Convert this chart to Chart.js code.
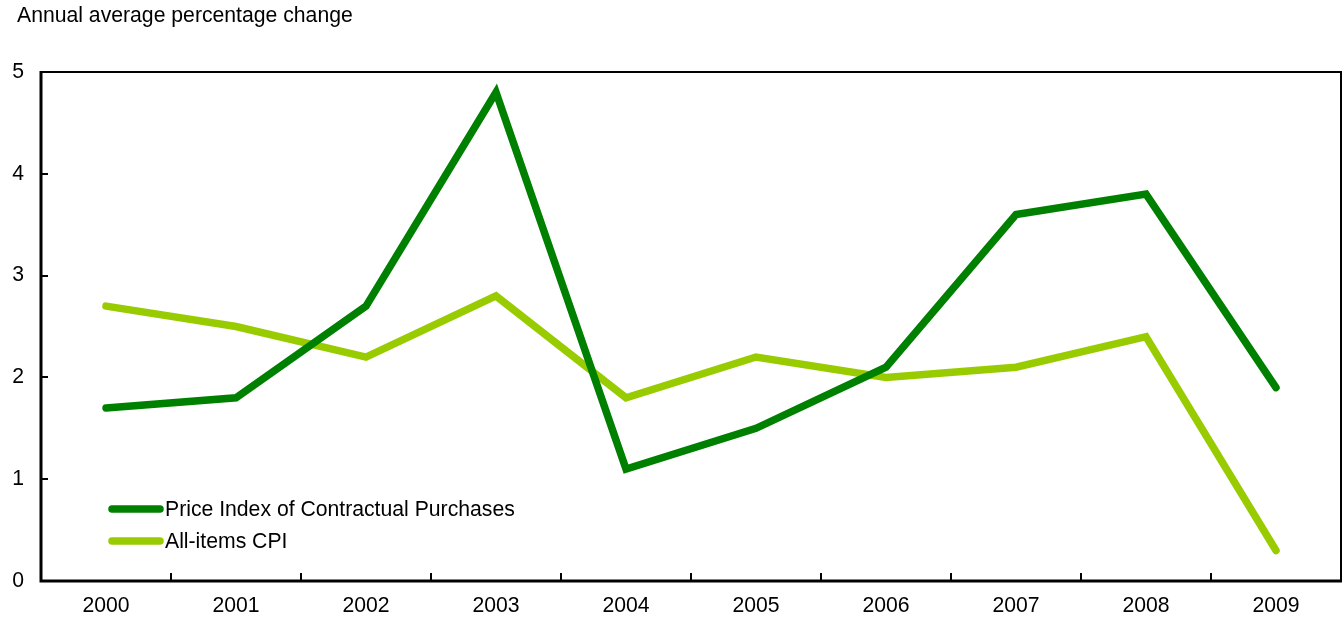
<!DOCTYPE html>
<html>
<head>
<meta charset="utf-8">
<script src="https://cdn.jsdelivr.net/npm/chart.js@4/dist/chart.umd.min.js"></script>
<style>
  html, body { margin: 0; padding: 0; background: #ffffff; }
  #wrap { width: 1343px; height: 618px; position: relative; }
</style>
</head>
<body>
<div id="wrap"><canvas id="c" width="1343" height="618"></canvas></div>
<script>
const years = ['2000','2001','2002','2003','2004','2005','2006','2007','2008','2009'];
const contractualPurchases = [1.7, 1.8, 2.7, 4.8, 1.1, 1.5, 2.1, 3.6, 3.8, 1.9];
const allItemsCPI = [2.7, 2.5, 2.2, 2.8, 1.8, 2.2, 2.0, 2.1, 2.4, 0.3];
const seriesNames = ['Price Index of Contractual Purchases', 'All-items CPI'];
const yTickValues = [0, 1, 2, 3, 4, 5];
const titleText = 'Annual average percentage change';

const FONT = '"Liberation Sans", Arial, Helvetica, sans-serif';
const FSIZE = 21.2;
const DARK = '#008000';
const LIGHT = '#99cc00';

const framePlugin = {
  id: 'frame',
  afterDraw(chart) {
    const ctx = chart.ctx;
    const a = chart.chartArea;
    const xs = chart.scales.x, ys = chart.scales.y;
    ctx.save();
    ctx.strokeStyle = '#000';
    ctx.lineCap = 'butt';
    ctx.lineWidth = 2;
    ctx.beginPath();
    ctx.moveTo(a.left, a.top); ctx.lineTo(a.right, a.top); ctx.lineTo(a.right, a.bottom);
    ctx.stroke();
    ctx.lineWidth = 3;
    ctx.beginPath();
    ctx.moveTo(a.left, a.top - 1); ctx.lineTo(a.left, a.bottom); ctx.lineTo(a.right + 1, a.bottom);
    ctx.stroke();
    ctx.lineWidth = 2;
    ctx.beginPath();
    for (let i = 1; i < years.length; i++) {
      const x = Math.round((xs.getPixelForValue(i - 1) + xs.getPixelForValue(i)) / 2);
      ctx.moveTo(x, a.bottom); ctx.lineTo(x, a.bottom - 8);
    }
    yTickValues.forEach(v => {
      if (v === yTickValues[0] || v === yTickValues[yTickValues.length - 1]) return;
      const y = Math.round(ys.getPixelForValue(v));
      ctx.moveTo(a.left, y); ctx.lineTo(a.left + 7, y);
    });
    ctx.stroke();
    ctx.fillStyle = '#000';
    ctx.font = FSIZE + 'px ' + FONT;
    ctx.textAlign = 'left';
    ctx.textBaseline = 'alphabetic';
    ctx.fillText(titleText, 17, 22);
    const rows = [509, 541];
    chart.data.datasets.forEach((ds, i) => {
      const y = rows[i];
      ctx.strokeStyle = ds.borderColor;
      ctx.lineWidth = 7.5;
      ctx.lineCap = 'round';
      ctx.beginPath();
      ctx.moveTo(112, y); ctx.lineTo(160, y);
      ctx.stroke();
      ctx.fillStyle = '#000';
      ctx.textBaseline = 'middle';
      ctx.fillText(ds.label, 165, y + 1);
    });
    ctx.restore();
  }
};

new Chart(document.getElementById('c'), {
  type: 'line',
  data: {
    labels: years,
    datasets: [
      { label: seriesNames[0], data: contractualPurchases, borderColor: DARK, backgroundColor: DARK,
        borderWidth: 7.5, pointRadius: 0, tension: 0, borderCapStyle: 'round', borderJoinStyle: 'miter' },
      { label: seriesNames[1], data: allItemsCPI, borderColor: LIGHT, backgroundColor: LIGHT,
        borderWidth: 7.5, pointRadius: 0, tension: 0, borderCapStyle: 'round', borderJoinStyle: 'miter' }
    ]
  },
  options: {
    responsive: false,
    animation: false,
    devicePixelRatio: 1,
    layout: { padding: { top: 72, right: 2, left: 0, bottom: 0 } },
    plugins: { legend: { display: false }, title: { display: false }, tooltip: { enabled: false } },
    scales: {
      x: {
        type: 'category',
        offset: true,
        grid: { display: false, drawTicks: false, offset: true },
        border: { display: false },
        ticks: { color: '#000', font: { family: FONT, size: FSIZE }, padding: 12, maxRotation: 0, autoSkip: false },
        afterFit(s) { s.height = 37; }
      },
      y: {
        min: 0, max: 5,
        afterBuildTicks(s) { s.ticks = yTickValues.map(v => ({ value: v })); },
        grid: { display: false, drawTicks: false },
        border: { display: false },
        ticks: { color: '#000', font: { family: FONT, size: FSIZE }, padding: 17 },
        afterFit(s) { s.width = 41; }
      }
    }
  },
  plugins: [framePlugin]
});
</script>
</body>
</html>
